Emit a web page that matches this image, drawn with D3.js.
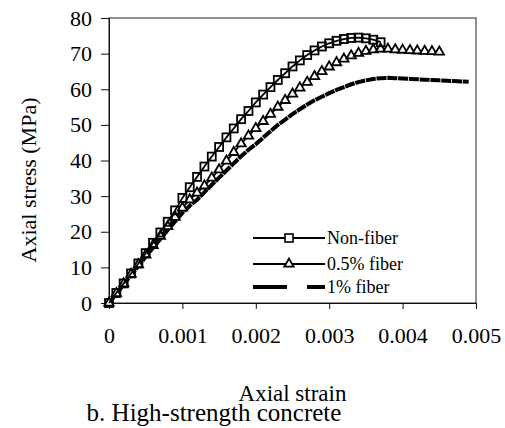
<!DOCTYPE html>
<html>
<head>
<meta charset="utf-8">
<script src="https://cdn.jsdelivr.net/npm/d3@7"></script>
<style>
  body { margin: 0; background: #fff; }
</style>
</head>
<body>
<div id="chart"></div>
<script>
var width = 505
var height = 428
var FONT = "'Liberation Serif', 'Times New Roman', Times, 'DejaVu Serif', serif"

// strain step between read points
var STEP = 0.0001

var nonFiber = [0, 2.8, 5.5, 8.3, 11.1, 14.0, 16.9, 19.8, 22.8, 26.0, 29.5, 32.5, 35.4, 38.3, 41.1,
    43.8, 46.5, 49.0, 51.6, 53.9, 56.3, 58.5, 60.6, 62.6, 64.5, 66.4, 68.1, 69.6, 70.9, 72.0,
    72.9, 73.6, 74.1, 74.4, 74.5, 74.3, 73.9, 73.2]

var fiber05 = [0, 2.7, 5.4, 8.1, 10.8, 13.5, 16.2, 18.8, 21.5, 24.1, 26.7, 29.0, 30.9, 32.9, 35.1,
    37.4, 39.9, 42.3, 44.7, 46.9, 49.0, 51.0, 53.0, 55.0, 56.9, 58.7, 60.4, 62.0, 63.6, 65.0,
    66.3, 67.5, 68.5, 69.4, 70.1, 70.7, 71.1, 71.3, 71.3, 71.1, 71.0, 70.9, 70.8, 70.7, 70.6, 70.5]

var fiber1 = [0, 2.6, 5.2, 7.8, 10.4, 13.0, 15.5, 18.0, 20.5, 22.9, 25.3, 27.3, 29.0, 31.1, 33.2,
    35.2, 37.2, 39.2, 41.2, 43.0, 44.6, 46.4, 48.2, 50.0, 51.5, 53.0, 54.4, 55.7, 56.9, 57.9,
    58.9, 59.8, 60.6, 61.4, 62.0, 62.5, 62.9, 63.1, 63.2, 63.1, 63.0, 62.9, 62.8, 62.7, 62.6,
    62.5, 62.4, 62.3, 62.2, 62.1]

var xTicks = [0, 0.001, 0.002, 0.003, 0.004, 0.005]
var yTicks = [0, 10, 20, 30, 40, 50, 60, 70, 80]
var legendNames = ["Non-fiber", "0.5% fiber", "1% fiber"]

var margin = {left: 109, top: 18, right: 29, bottom: 125}

var svg = d3.select("#chart")
    .append("svg")
    .attr("width", width)
    .attr("height", height)
    .style("font-family", FONT)

var x = d3.scaleLinear()
    .domain([0, 0.005])
    .range([margin.left, width - margin.right])

var y = d3.scaleLinear()
    .domain([0, 80])
    .range([height - margin.bottom, margin.top])

function toPoints(arr){
    return arr.map((v, i) => [i * STEP, v])
}

// frame
svg.append("rect")
    .attr("x", x(0))
    .attr("y", y(80))
    .attr("width", x(0.005) - x(0))
    .attr("height", y(0) - y(80))
    .attr("fill", "none")
    .attr("stroke", "#222")
    .attr("stroke-width", 1)

var xAxis = svg.append("g")
    .attr("transform", "translate(0," + y(0) + ")")
    .call(d3.axisBottom(x).tickValues(xTicks).tickSize(6).tickPadding(18)
        .tickFormat(d => d == 0 ? "0" : d3.format(".3f")(d)))
xAxis.attr("font-family", FONT)
xAxis.selectAll("text").style("font-size", "22px").style("font-family", FONT).attr("fill", "#000")

var yAxis = svg.append("g")
    .attr("transform", "translate(" + x(0) + ",0)")
    .call(d3.axisLeft(y).tickValues(yTicks).tickSize(8).tickPadding(9))
yAxis.attr("font-family", FONT)
yAxis.selectAll("text").style("font-size", "22px").style("font-family", FONT).attr("fill", "#000")

svg.selectAll(".domain, .tick line").attr("stroke", "#111")

var line = d3.line()
    .x(d => x(d[0]))
    .y(d => y(d[1]))

var p1 = toPoints(fiber1)
var p05 = toPoints(fiber05)
var p0 = toPoints(nonFiber)

// 1% fiber - heavy dashed
svg.append("path")
    .datum(p1)
    .attr("d", line)
    .attr("fill", "none")
    .attr("stroke", "#000")
    .attr("stroke-width", 4)
    .attr("stroke-dasharray", "10,0.8")

// 0.5% fiber - triangles
svg.append("path")
    .datum(p05)
    .attr("d", line)
    .attr("fill", "none")
    .attr("stroke", "#000")
    .attr("stroke-width", 1.8)

var tri = d3.symbol().type(d3.symbolTriangle).size(38)
svg.selectAll(".tri")
    .data(p05)
    .enter()
    .append("path")
    .attr("class", "tri")
    .attr("d", tri)
    .attr("transform", d => "translate(" + x(d[0]) + "," + y(d[1]) + ")")
    .attr("fill", "#fff")
    .attr("stroke", "#000")
    .attr("stroke-width", 1.8)

// non-fiber - squares
svg.append("path")
    .datum(p0)
    .attr("d", line)
    .attr("fill", "none")
    .attr("stroke", "#000")
    .attr("stroke-width", 1.8)

svg.selectAll(".sq")
    .data(p0)
    .enter()
    .append("rect")
    .attr("class", "sq")
    .attr("x", d => x(d[0]) - 4)
    .attr("y", d => y(d[1]) - 4)
    .attr("width", 8)
    .attr("height", 8)
    .attr("fill", "none")
    .attr("stroke", "#000")
    .attr("stroke-width", 1.8)

// legend
var legend = svg.append("g")
    .attr("transform", "translate(253,238)")

legendNames.forEach(function(name, i){
    var g = legend.append("g").attr("transform", "translate(0," + [0, 26, 49][i] + ")")
    var ln = g.append("line")
        .attr("x1", 0).attr("x2", 72)
        .attr("y1", 0).attr("y2", 0)
        .attr("stroke", "#000")
        .attr("stroke-width", i == 2 ? 4 : 1.8)
    if (i == 2) ln.attr("stroke-dasharray", "34,20")
    if (i == 0) {
        g.append("rect")
            .attr("x", 32).attr("y", -4).attr("width", 8).attr("height", 8)
            .attr("fill", "#fff").attr("stroke", "#000").attr("stroke-width", 1.6)
    }
    if (i == 1) {
        g.append("path")
            .attr("d", d3.symbol().type(d3.symbolTriangle).size(38))
            .attr("transform", "translate(36,0)")
            .attr("fill", "#fff").attr("stroke", "#000").attr("stroke-width", 1.8)
    }
    g.append("text")
        .attr("x", 74)
        .attr("y", 6)
        .style("font-family", FONT)
        .style("font-size", "18px")
        .text(name)
})

// titles
svg.append("text")
    .attr("x", (x(0) + x(0.005)) / 2)
    .attr("y", 401)
    .attr("text-anchor", "middle")
    .style("font-family", FONT)
    .style("font-size", "23px")
    .text("Axial strain")

svg.append("text")
    .attr("x", 214)
    .attr("y", 421)
    .attr("text-anchor", "middle")
    .style("font-family", FONT)
    .style("font-size", "25px")
    .text("b. High-strength concrete")

svg.append("text")
    .attr("transform", "translate(36,180) rotate(-90)")
    .attr("text-anchor", "middle")
    .style("font-family", FONT)
    .style("font-size", "22px")
    .text("Axial stress (MPa)")
</script>
</body>
</html>
